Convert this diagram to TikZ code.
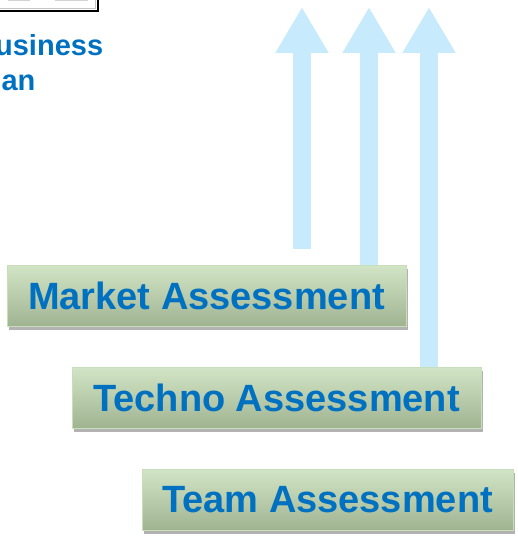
\documentclass[tikz,border=0pt]{standalone}
\usepackage{fontspec}
\setmainfont{Liberation Sans}
\usepackage{tikz}
\usetikzlibrary{arrows.meta, shadows, backgrounds}

\definecolor{liftblue}{RGB}{199,235,252}
\definecolor{textblue}{RGB}{0,112,192}
\definecolor{boxtop}{RGB}{209,228,197}
\definecolor{boxbottom}{RGB}{160,179,145}
\definecolor{boxedge}{RGB}{200,222,186}

\tikzset{
  assess/.style={shade, top color=boxtop, bottom color=boxbottom, draw=boxedge, line width=0.8,
    drop shadow={shadow xshift=2pt, shadow yshift=-3pt, fill=black, opacity=0.3},
    text=textblue, font=\fontsize{38}{45}\selectfont\bfseries, inner sep=0, minimum height=61},
  lift/.style={draw=liftblue, line width=18, -{Triangle[length=46pt, width=50pt]}},
}

\begin{document}
\begin{tikzpicture}[x=1pt, y=-1pt]
\useasboundingbox (0,0) rectangle (518,540);
\clip (0,0) rectangle (518,540);
\draw [line width=2.5, fill=white] (-10,-10) rectangle (98,11);
\draw [gray!45] (-10,8) -- (95.5,8) -- (95.5,-10);
\draw [gray!35, line width=1] (8,1) -- (30,1) (55,1) -- (88,1);
\node [anchor=north west, inner sep=0, align=left, text=textblue, font=\fontsize{29}{35}\selectfont\bfseries] (plan) at (-26,34) {Business\\Plan};
\node [assess, minimum width=399] (market) at (206.5,296) {Market Assessment};
\node [assess, minimum width=409] (techno) at (276.5,398) {Techno Assessment};
\node [assess, minimum width=371] (team) at (327.5,500) {Team Assessment};
\coordinate (tipA) at (302,7);
\coordinate (tipB) at (369,7);
\coordinate (tipC) at (429,7);
\coordinate (footA) at (302,249);
\begin{scope}[on background layer]
\draw [lift] (footA) -- (tipA);
\draw [lift] (tipB |- market.north) -- (tipB);
\draw [lift] (tipC |- techno.north) -- (tipC);
\end{scope}
\end{tikzpicture}
\end{document}
